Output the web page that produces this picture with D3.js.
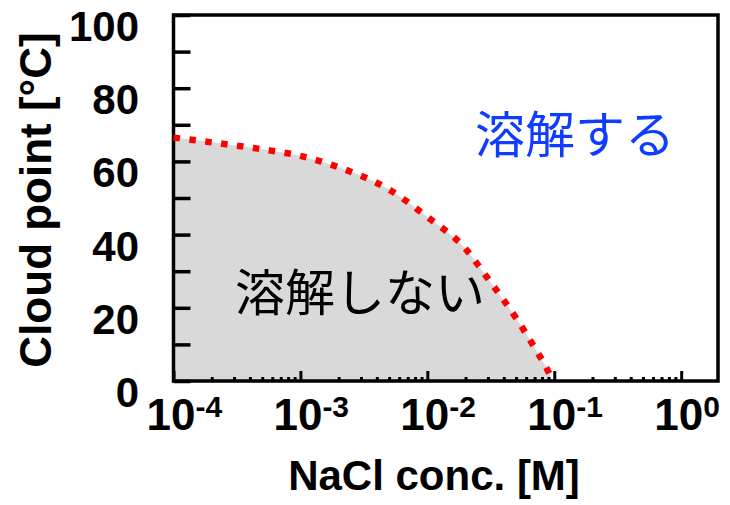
<!DOCTYPE html>
<html>
<head>
<meta charset="utf-8">
<script src="https://cdn.jsdelivr.net/npm/d3@7"></script>
<style>
  body { margin: 0; background: #fff; }
  svg text { font-family: "Liberation Sans", Arial, sans-serif; }
</style>
</head>
<body>
<script>
// NaCl concentration [M] vs cloud point [°C]
var conc  = [1e-4, 2e-4, 5e-4, 1e-3, 2e-3, 5e-3, 1e-2, 2e-2, 3e-2, 5e-2, 7e-2, 9e-2, 9.7e-2]
var cloud = [66.5, 65.2, 63.3, 61.5, 58.4, 52.3, 44.8, 36.1, 28.0, 17.2, 9.1, 2.5, 0]

var yTickLabels = [0, 20, 40, 60, 80, 100]
var xDecades = [-4, -3, -2, -1, 0]

var width = 730, height = 505
// plot frame (don't use "top" - it's window.top)
var pLeft = 173.5, pRight = 718, pTop = 15, pBottom = 381

var svg = d3.select("body").append("svg").attr("width", width).attr("height", height)

var x = d3.scaleLog().domain([1e-4, 1.95]).range([pLeft, pRight])
var y = d3.scaleLinear().domain([0, 100]).range([pBottom, pTop])

var pts = conc.map((c, i) => ({c: c, v: cloud[i]}))

// grey "insoluble" region
var area = d3.area()
  .x(d => x(d.c))
  .y0(y(0))
  .y1(d => y(d.v))
  .curve(d3.curveMonotoneX)

svg.append("path").datum(pts)
  .attr("d", area)
  .attr("fill", "#d9d9d9")

// y ticks (inward)
svg.append("g")
  .attr("transform", `translate(${pLeft},0)`)
  .call(d3.axisLeft(y).tickValues(d3.range(0, 101, 10)).tickSize(-17).tickFormat(""))
  .call(g => g.select(".domain").remove())
  .call(g => g.selectAll("line").attr("stroke", "#000").attr("stroke-width", 3.5))

// x minor ticks
var minor = []
for (var e = -4; e <= 0; e++) {
  for (var m = 2; m <= 9; m++) {
    var v = m * Math.pow(10, e)
    if (v <= 1.95) minor.push(v)
  }
}
svg.append("g")
  .attr("transform", `translate(0,${pBottom})`)
  .call(d3.axisBottom(x).tickValues(minor).tickSize(-4).tickFormat(""))
  .call(g => g.select(".domain").remove())
  .call(g => g.selectAll("line").attr("stroke", "#000").attr("stroke-width", 3))

// x major ticks
svg.append("g")
  .attr("transform", `translate(0,${pBottom})`)
  .call(d3.axisBottom(x).tickValues(xDecades.map(d => Math.pow(10, d))).tickSize(-10).tickFormat(""))
  .call(g => g.select(".domain").remove())
  .call(g => g.selectAll("line").attr("stroke", "#000").attr("stroke-width", 3))

// frame
svg.append("rect")
  .attr("x", pLeft).attr("y", pTop)
  .attr("width", pRight - pLeft).attr("height", pBottom - pTop)
  .attr("fill", "none").attr("stroke", "#000").attr("stroke-width", 3.5)

// red dotted boundary
var line = d3.line()
  .x(d => x(d.c))
  .y(d => y(d.v))
  .curve(d3.curveMonotoneX)

svg.append("path").datum(pts)
  .attr("d", line)
  .attr("fill", "none")
  .attr("stroke", "#ff0000")
  .attr("stroke-width", 6.5)
  .attr("stroke-dasharray", "6.5,9.5")

// y tick labels
svg.append("g").selectAll("text")
  .data(yTickLabels)
  .join("text")
  .attr("x", 139)
  .attr("y", d => y(d) + 26)
  .attr("text-anchor", "end")
  .attr("font-size", 42)
  .attr("font-weight", "bold")
  .text(d => d)

// x tick labels 10^n
var xl = svg.append("g").selectAll("text")
  .data(xDecades)
  .join("text")
  .attr("x", d => x(Math.pow(10, d)) - 27)
  .attr("y", 430)
  .attr("font-size", 44)
  .attr("font-weight", "bold")
xl.append("tspan").text("10")
xl.append("tspan").attr("dy", -13).attr("font-size", 30).text(d => d)

// axis titles
svg.append("text")
  .attr("x", 434).attr("y", 490)
  .attr("text-anchor", "middle")
  .attr("font-size", 42)
  .attr("font-weight", "bold")
  .text("NaCl conc. [M]")

svg.append("text")
  .attr("transform", "translate(51,200) rotate(-90)")
  .attr("text-anchor", "middle")
  .attr("font-size", 44)
  .attr("font-weight", "bold")
  .text("Cloud point [°C]")

// region labels
svg.append("text")
  .attr("x", 475).attr("y", 153)
  .style("font-family", "'Noto Sans CJK JP', sans-serif")
  .attr("font-size", 50)
  .attr("fill", "#0f3dff")
  .text("溶解する")

svg.append("text")
  .attr("x", 235).attr("y", 311)
  .style("font-family", "'Noto Sans CJK JP', sans-serif")
  .attr("font-size", 50)
  .attr("fill", "#000")
  .text("溶解しない")
</script>
</body>
</html>
